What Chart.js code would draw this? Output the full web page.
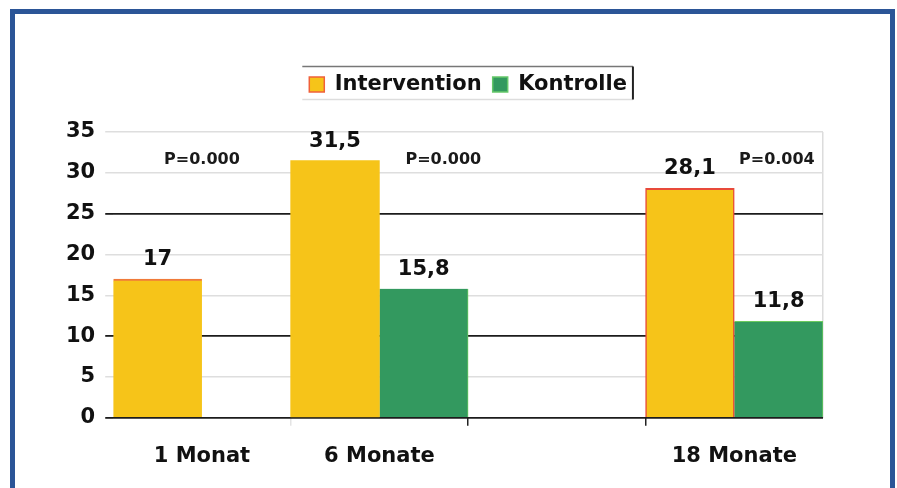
<!DOCTYPE html>
<html>
<head>
<meta charset="utf-8">
<script src="https://cdn.jsdelivr.net/npm/chart.js@4.4.1/dist/chart.umd.min.js"></script>
<style>
  html, body { margin: 0; padding: 0; background: #ffffff; }
  #wrap { position: relative; width: 897px; height: 488px; overflow: hidden; background: #fff; }
  #frame { position: absolute; left: 10px; top: 9px; width: 885px; height: 600px; box-sizing: border-box;
           border: 5px solid #2B5597; pointer-events: none; }
  canvas { position: absolute; left: 0; top: 0; }
</style>
</head>
<body>
<div id="wrap">
  <canvas id="c" width="897" height="488"></canvas>
  <div id="frame"></div>
</div>
<script>
// ---- data ----
const categories = ['1 Monat', '6 Monate', '', '18 Monate'];
const interventionValues = [17, 31.5, null, 28.1];
const kontrolleValues = [null, 15.8, null, 11.8];
const pValueTexts = ['P=0.000', 'P=0.000', '', 'P=0.004'];
const yTicks = [0, 5, 10, 15, 20, 25, 30, 35];
const seriesNames = ['Intervention', 'Kontrolle'];

const FONT = '"DejaVu Sans", Verdana, sans-serif';
const YELLOW = '#F6C419';
const GREEN = '#33995F';

const fmt = v => String(v).replace('.', ',');

const valueLabels = {
  id: 'valueLabels',
  afterDatasetsDraw(chart) {
    const ctx = chart.ctx;
    ctx.save();
    ctx.font = 'bold 21px ' + FONT;
    ctx.fillStyle = '#111';
    ctx.textAlign = 'center';
    ctx.textBaseline = 'bottom';
    chart.data.datasets.forEach((ds, di) => {
      const meta = chart.getDatasetMeta(di);
      meta.data.forEach((bar, i) => {
        const v = ds.data[i];
        if (v === null || v === undefined) return;
        ctx.fillText(fmt(v), bar.x, bar.y - 9);
      });
    });
    // p-values
    const xs = chart.scales.x, ys = chart.scales.y;
    const catW = xs.width / categories.length;
    const shift = [0, 0.36, 0, 0.24];
    ctx.font = 'bold 16px ' + FONT;
    ctx.textBaseline = 'middle';
    ctx.fillStyle = '#1a1a1a';
    pValueTexts.forEach((t, i) => {
      if (!t) return;
      ctx.fillText(t, xs.getPixelForValue(i) + shift[i] * catW, ys.getPixelForValue(31.6));
    });
    ctx.restore();
  }
};

const legendSpace = {
  id: 'legendSpace',
  afterInit(chart) {
    const lg = chart.legend;
    if (!lg) return;
    const orig = lg.fit;
    lg.fit = function () { orig.call(this); this.height += 27; };
  }
};

const legendFrame = {
  id: 'legendFrame',
  afterDraw(chart) {
    const lg = chart.legend;
    if (!lg || !lg.legendHitBoxes || !lg.legendHitBoxes.length) return;
    const hb = lg.legendHitBoxes;
    const l = hb[0].left - 7;
    const r = hb[hb.length - 1].left + hb[hb.length - 1].width + 6;
    const cy = hb[0].top + hb[0].height / 2;
    const t = cy - 18, b = cy + 15;
    const ctx = chart.ctx;
    ctx.save();
    ctx.lineWidth = 1.5;
    ctx.strokeStyle = '#777';
    ctx.beginPath(); ctx.moveTo(l, t); ctx.lineTo(r, t); ctx.stroke();
    ctx.strokeStyle = '#ddd';
    ctx.beginPath(); ctx.moveTo(l, b); ctx.lineTo(r, b); ctx.stroke();
    ctx.strokeStyle = '#222';
    ctx.lineWidth = 2;
    ctx.beginPath(); ctx.moveTo(r, t); ctx.lineTo(r, b); ctx.stroke();
    ctx.restore();
  }
};

new Chart(document.getElementById('c'), {
  type: 'bar',
  data: {
    labels: categories,
    datasets: [
      {
        label: seriesNames[0],
        data: interventionValues,
        backgroundColor: YELLOW,
        borderColor: ['#F07A3A', YELLOW, YELLOW, '#E84A3A'],
        borderWidth: (c) => {
          if (c.dataIndex === 0) return { top: 2, left: 0, right: 0, bottom: 0 };
          if (c.dataIndex === 3) return { top: 2, left: 1.5, right: 1.5, bottom: 0 };
          return 0;
        },
        borderSkipped: false,
        barPercentage: 1,
        categoryPercentage: 1
      },
      {
        label: seriesNames[1],
        data: kontrolleValues,
        backgroundColor: GREEN,
        borderColor: '#6CCB5F',
        borderWidth: (c) => (c.dataIndex === 3 ? { top: 1, left: 0, right: 1, bottom: 0 } : { top: 0, left: 0, right: 1, bottom: 0 }),
        borderSkipped: false,
        barPercentage: 1,
        categoryPercentage: 1
      }
    ]
  },
  options: {
    responsive: false,
    animation: false,
    events: [],
    layout: { padding: { left: 56, right: 74, top: 63, bottom: 1 } },
    plugins: {
      legend: {
        display: true,
        position: 'top',
        fullSize: false,
        labels: {
          boxWidth: 15,
          boxHeight: 15,
          padding: 11,
          color: '#111',
          font: { family: FONT, size: 21, weight: 'bold' },
          generateLabels: (chart) => chart.data.datasets.map((ds, i) => ({
            text: ds.label,
            fillStyle: ds.backgroundColor,
            strokeStyle: i === 0 ? '#F0603A' : '#66C86A',
            lineWidth: 1.5,
            hidden: false,
            datasetIndex: i,
            fontColor: '#111'
          }))
        }
      },
      tooltip: { enabled: false },
      title: { display: false }
    },
    scales: {
      x: {
        offset: true,
        grid: {
          offset: true,
          drawOnChartArea: true,
          drawTicks: true,
          tickLength: 8,
          lineWidth: 1.5,
          color: (c) => (c.type === 'scale' ? '#dcdcdc' : 'rgba(0,0,0,0)'),
          tickColor: (c) => {
            if (c.index === 2 || c.index === 3) return '#222';
            if (c.index === 1) return '#e4e4e4';
            return 'rgba(0,0,0,0)';
          }
        },
        border: { display: false },
        ticks: {
          color: '#111',
          padding: 18,
          font: { family: FONT, size: 21, weight: 'bold' }
        }
      },
      y: {
        min: 0,
        max: 35,
        afterBuildTicks: (axis) => { axis.ticks = yTicks.map(v => ({ value: v })); },
        grid: {
          drawTicks: true,
          tickLength: 8,
          lineWidth: (c) => ([0, 10, 25].includes(c.tick && c.tick.value) ? 1.8 : 1.5),
          color: (c) => ([0, 10, 25].includes(c.tick && c.tick.value) ? '#1c1c1c' : '#dedede')
        },
        border: { display: false },
        ticks: {
          color: '#111',
          padding: 10,
          font: { family: FONT, size: 21, weight: 'bold' }
        }
      }
    }
  },
  plugins: [valueLabels, legendSpace, legendFrame]
});
</script>
</body>
</html>
